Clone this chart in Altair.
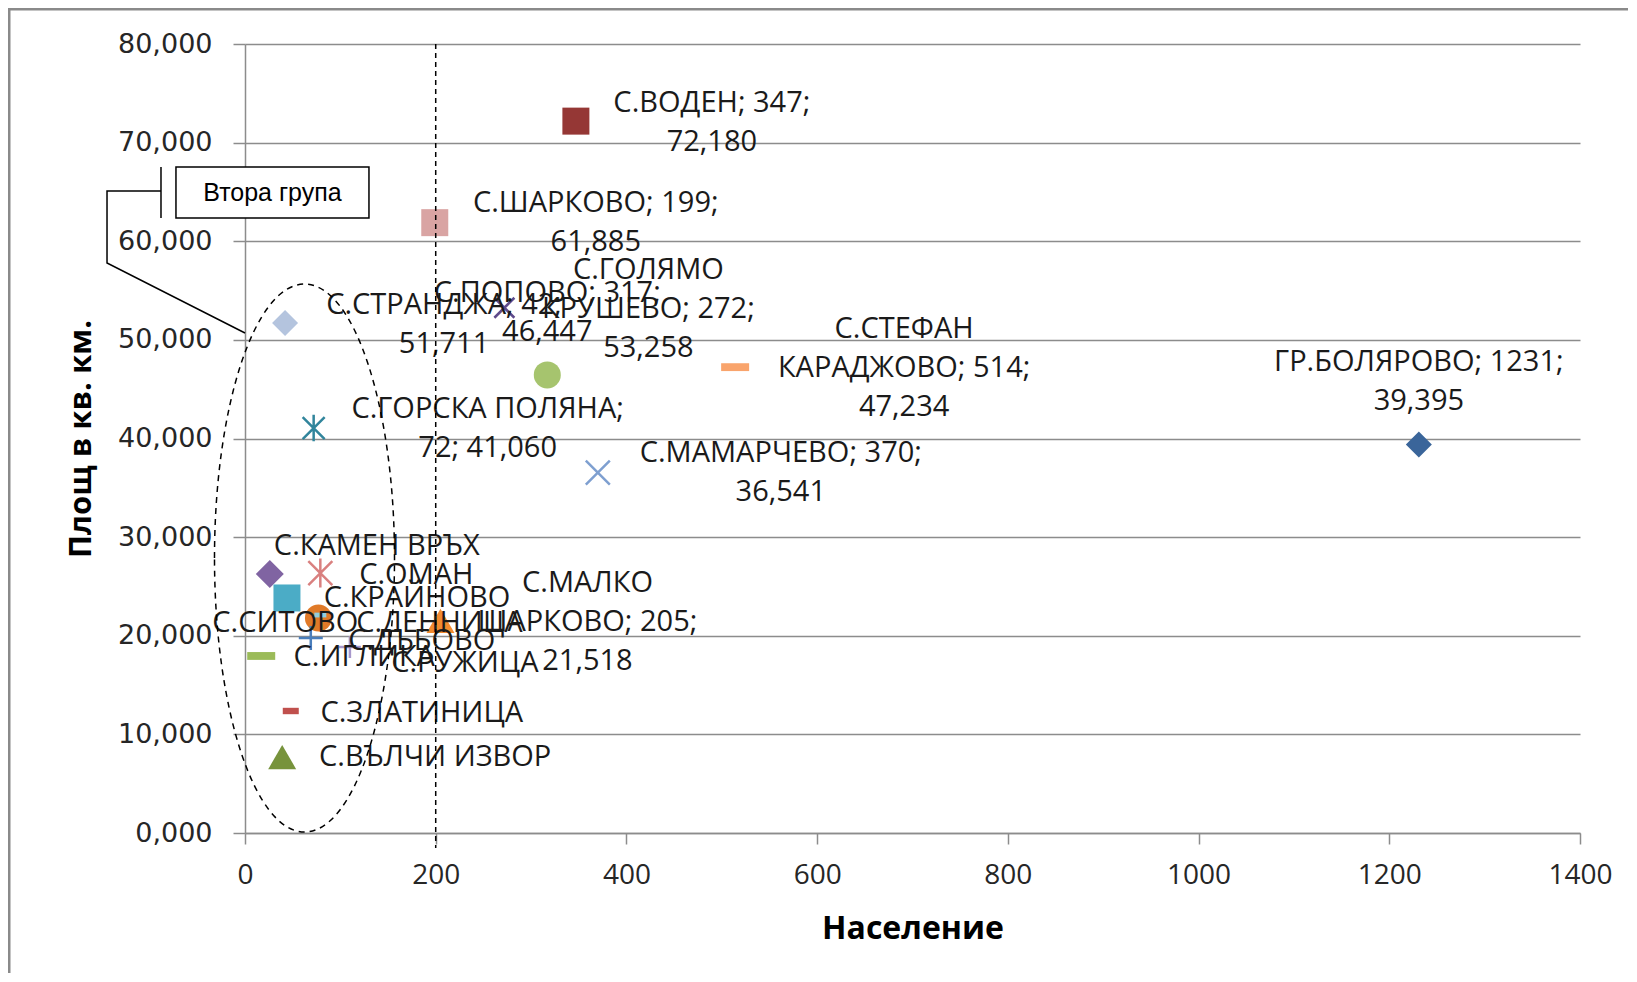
import altair as alt
import pandas as pd

# ---------------- data ----------------
names = [
    "ГР.БОЛЯРОВО", "С.ВОДЕН", "С.ШАРКОВО", "С.СТРАНДЖА", "С.ПОПОВО",
    "С.ГОЛЯМО КРУШЕВО", "С.СТЕФАН КАРАДЖОВО", "С.ГОРСКА ПОЛЯНА", "С.МАМАРЧЕВО",
    "С.КАМЕН ВРЪХ", "С.ОМАН", "С.КРАЙНОВО", "С.ДЕННИЦА", "С.СИТОВО",
    "С.МАЛКО ШАРКОВО", "С.ДЪБОВО", "С.РУЖИЦА", "С.ИГЛИКА", "С.ЗЛАТИНИЦА",
    "С.ВЪЛЧИ ИЗВОР",
]
population = [1231, 347, 199, 42, 317, 272, 514, 72, 370,
              26, 79, 44, 77, 79, 205, 69, 110, 17, 48, 39]
area = [39.395, 72.180, 61.885, 51.711, 46.447, 53.258, 47.234, 41.060, 36.541,
        26.26, 26.36, 23.83, 21.80, 22.10, 21.518, 19.77, 18.86, 17.95, 12.37, 7.70]
labels = [
    "ГР.БОЛЯРОВО; 1231;\n39,395",
    "С.ВОДЕН; 347;\n72,180",
    "С.ШАРКОВО; 199;\n61,885",
    "С.СТРАНДЖА; 42;\n51,711",
    "С.ПОПОВО; 317;\n46,447",
    "С.ГОЛЯМО\nКРУШЕВО; 272;\n53,258",
    "С.СТЕФАН\nКАРАДЖОВО; 514;\n47,234",
    "С.ГОРСКА ПОЛЯНА;\n72; 41,060",
    "С.МАМАРЧЕВО; 370;\n36,541",
    "С.КАМЕН ВРЪХ",
    "С.ОМАН",
    "С.КРАЙНОВО",
    "С.ДЕННИЦА",
    "С.СИТОВО",
    "С.МАЛКО\nШАРКОВО; 205;\n21,518",
    "С.ДЪБОВО",
    "С.РУЖИЦА",
    "С.ИГЛИКА",
    "С.ЗЛАТИНИЦА",
    "С.ВЪЛЧИ ИЗВОР",
]
x_ticks = [0, 200, 400, 600, 800, 1000, 1200, 1400]
y_ticks = [0, 10, 20, 30, 40, 50, 60, 70, 80]
threshold_pop = [200]
group_label = ["Втора група"]

# ---------------- styles (kept apart from the values) ----------------
X_PATH = "M-1,-1L1,1M-1,1L1,-1"
STAR_PATH = "M-1,-1L1,1M-1,1L1,-1M0,-1.2L0,1.2"
PLUS_PATH = "M-1,0L1,0M0,-1L0,1"
DASH_PATH = "M-1,-0.28L1,-0.28L1,0.28L-1,0.28Z"
SDASH_PATH = "M-1,-0.4L1,-0.4L1,0.4L-1,0.4Z"
style = {
    # name: (color, shape, width px, kind)
    "ГР.БОЛЯРОВО": ("#3a659a", "diamond", 26, "fill"),
    "С.ВОДЕН": ("#953735", "square", 27, "fill"),
    "С.ШАРКОВО": ("#d9a4a3", "square", 27, "fill"),
    "С.СТРАНДЖА": ("#b4c4de", "diamond", 26, "fill"),
    "С.ПОПОВО": ("#a6c46e", "circle", 27, "fill"),
    "С.ГОЛЯМО КРУШЕВО": ("#5f4b8b", X_PATH, 20, "line"),
    "С.СТЕФАН КАРАДЖОВО": ("#f9a46c", DASH_PATH, 28, "fill"),
    "С.ГОРСКА ПОЛЯНА": ("#31859c", STAR_PATH, 22, "line"),
    "С.МАМАРЧЕВО": ("#7e9fd0", X_PATH, 24, "line"),
    "С.КАМЕН ВРЪХ": ("#8064a2", "diamond", 28, "fill"),
    "С.ОМАН": ("#d9807f", STAR_PATH, 24, "line"),
    "С.КРАЙНОВО": ("#4bacc6", "square", 27, "fill"),
    "С.ДЕННИЦА": ("#e07a28", "circle", 27, "fill"),
    "С.СИТОВО": ("#93cddd", SDASH_PATH, 12, "fill"),
    "С.МАЛКО ШАРКОВО": ("#f28a2e", "triangle-up", 28, "fill"),
    "С.ДЪБОВО": ("#4a7ebb", PLUS_PATH, 24, "line"),
    "С.РУЖИЦА": ("#a898cc", PLUS_PATH, 22, "line"),
    "С.ИГЛИКА": ("#9bbb59", DASH_PATH, 28, "fill"),
    "С.ЗЛАТИНИЦА": ("#c0504d", SDASH_PATH, 16, "fill"),
    "С.ВЪЛЧИ ИЗВОР": ("#77933c", "triangle-up", 28, "fill"),
}
# label block centre relative to marker, in pixels
label_offset = {
    "ГР.БОЛЯРОВО": (0, -63), "С.ВОДЕН": (136, 1), "С.ШАРКОВО": (161, 0),
    "С.СТРАНДЖА": (159, 1), "С.ПОПОВО": (0, -62), "С.ГОЛЯМО КРУШЕВО": (144, 1),
    "С.СТЕФАН КАРАДЖОВО": (169, 1), "С.ГОРСКА ПОЛЯНА": (174, 0),
    "С.МАМАРЧЕВО": (183, 0), "С.КАМЕН ВРЪХ": (107, -28), "С.ОМАН": (96, 2),
    "С.КРАЙНОВО": (130, 0), "С.ДЕННИЦА": (121, 5), "С.СИТОВО": (-35, 8),
    "С.МАЛКО ШАРКОВО": (147, 1), "С.ДЪБОВО": (111, 3), "С.РУЖИЦА": (115, 16),
    "С.ИГЛИКА": (103, 1), "С.ЗЛАТИНИЦА": (131, 2), "С.ВЪЛЧИ ИЗВОР": (153, 0),
}

W, H = 1335, 789
GRID = "#8c8c8c"
LABEL_FONT = "Open Sans"
LINE_H = 39

df = pd.DataFrame({"name": names, "pop": population, "area": area, "label": labels})
df["color"] = [style[n][0] for n in names]
df["shape"] = [style[n][1] for n in names]
df["size"] = [style[n][2] ** 2 for n in names]
df["kind"] = [style[n][3] for n in names]

xs = alt.Scale(domain=[0, 1400], nice=False, zero=False)
ys = alt.Scale(domain=[0, 80], nice=False, zero=False)

x_axis = alt.Axis(values=x_ticks, grid=False, format="d", labelFlush=False,
                  domainColor=GRID, domainWidth=1.5,
                  tickColor=GRID, tickWidth=1.5, tickSize=11,
                  labelFont=LABEL_FONT, labelFontSize=28, labelColor="#262626",
                  labelBaseline="middle", labelPadding=31,
                  titleFont=LABEL_FONT, titleFontSize=32, titleFontWeight="bold",
                  titleColor="#000000", titleY=95, titleBaseline="middle")
y_axis = alt.Axis(values=y_ticks, grid=True, gridColor=GRID, gridWidth=1.5,
                  domainColor=GRID, domainWidth=1.5, tickColor=GRID, tickWidth=1.5,
                  tickSize=12, labelExpr="replace(format(datum.value, '.3f'), '.', ',')",
                  labelFont="DejaVu Sans", labelFontSize=27, labelColor="#262626",
                  labelPadding=21, labelFlush=False,
                  titleFont=LABEL_FONT, titleFontSize=31, titleFontWeight="bold",
                  titleColor="#000000", titleX=-164, titleY=H / 2, titleAngle=270,
                  titleAlign="center", titleBaseline="middle")
X_TITLE = "Население"
Y_TITLE = "Площ в кв. км."


def X(field):
    return alt.X(field, scale=xs, axis=x_axis, title=X_TITLE)


def Y(field):
    return alt.Y(field, scale=ys, axis=y_axis, title=Y_TITLE)


base = alt.Chart(df)

# axis-only layer first (draws grid, ticks, labels, titles)
axes_layer = base.mark_point(opacity=0).encode(x=X("pop:Q"), y=Y("area:Q"))

# chart frame
frame = alt.Chart(pd.DataFrame({"a": [0]})).mark_rect(
    fillOpacity=0, stroke="#8a8a8a", strokeWidth=3
).encode(x=alt.value(-236), x2=alt.value(W + 120), y=alt.value(-35), y2=alt.value(H + 300))

filled = base.transform_filter(alt.datum.kind == "fill").mark_point(
    filled=True, opacity=1, strokeWidth=0
).encode(
    x=X("pop:Q"), y=Y("area:Q"),
    color=alt.Color("color:N", scale=None),
    shape=alt.Shape("shape:N", scale=None),
    size=alt.Size("size:Q", scale=None),
)

stroked = base.transform_filter(alt.datum.kind == "line").mark_point(
    filled=False, opacity=1, strokeWidth=2.5
).encode(
    x=X("pop:Q"), y=Y("area:Q"),
    color=alt.Color("color:N", scale=None),
    shape=alt.Shape("shape:N", scale=None),
    size=alt.Size("size:Q", scale=None),
)

label_layers = []
for n, lab in zip(names, labels):
    dx, dy = label_offset[n]
    nlines = lab.count("\n") + 1
    dy_first = dy - (nlines - 1) * LINE_H / 2
    label_layers.append(
        base.transform_filter(alt.datum.name == n).mark_text(
            align="center", baseline="middle", lineBreak="\n", font=LABEL_FONT,
            fontSize=29, lineHeight=LINE_H, color="#1a1a1a", dx=dx, dy=dy_first
        ).encode(x=X("pop:Q"), y=Y("area:Q"), text="label:N")
    )

# dashed ellipse around the second group (custom symbol path)
ell_df = pd.DataFrame({"pop": [62.4], "area": [27.88]})
ellipse = alt.Chart(ell_df).mark_point(
    shape="M-0.3285,0A0.3285,1,0,1,1,0.3285,0A0.3285,1,0,1,1,-0.3285,0Z",
    size=548 ** 2, filled=False, stroke="#000000", strokeWidth=1.5,
    strokeDash=[6, 5], opacity=1
).encode(x=X("pop:Q"), y=Y("area:Q"))

# vertical dashed threshold line at 200
vline = alt.Chart(pd.DataFrame({"pop": threshold_pop, "area": [80]})).mark_rule(
    color="#000000", strokeDash=[5, 4], strokeWidth=1.5
).encode(x=X("pop:Q"), y=Y("area:Q"), y2=alt.value(H + 15))

# callout "Втора група"
call_df = pd.DataFrame({"pop": [-88.1, -144.7, -144.7, 0.0],
                        "area": [65.09, 65.09, 57.80, 50.70],
                        "o": [0, 1, 2, 3]})
call_line = alt.Chart(call_df).mark_line(color="#000000", strokeWidth=1.5).encode(
    x=X("pop:Q"), y=Y("area:Q"), order="o:Q")
bar_df = pd.DataFrame({"pop": [-88.1], "area": [67.53], "area2": [62.36]})
call_bar = alt.Chart(bar_df).mark_rule(color="#000000", strokeWidth=1.5).encode(
    x=X("pop:Q"), y=Y("area:Q"), y2="area2:Q")
box_df = pd.DataFrame({"pop": [-72.4], "pop2": [130.0], "area": [67.53], "area2": [62.36]})
call_box = alt.Chart(box_df).mark_rect(fill="#ffffff", stroke="#000000", strokeWidth=1.5).encode(
    x=X("pop:Q"), x2="pop2:Q", y=Y("area:Q"), y2="area2:Q")
text_df = pd.DataFrame({"pop": [28.8], "area": [64.94], "t": group_label})
call_text = alt.Chart(text_df).mark_text(
    font="Liberation Sans", fontSize=25, color="#000000", align="center", baseline="middle"
).encode(x=X("pop:Q"), y=Y("area:Q"), text="t:N")

chart = alt.layer(
    axes_layer, frame, filled, stroked, *label_layers, ellipse, vline,
    call_line, call_bar, call_box, call_text
).properties(
    width=W, height=H,
    autosize=alt.AutoSizeParams(type="none"),
    padding={"left": 237, "top": 36, "right": 48, "bottom": 140},
    background="#ffffff",
).configure_view(stroke=None)

chart.save("out.html", embed_options={"renderer": "svg", "actions": False})
